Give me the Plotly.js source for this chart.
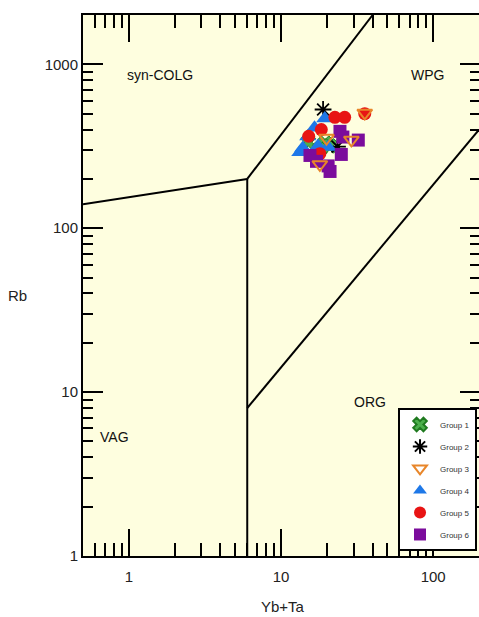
<!DOCTYPE html>
<html>
<head>
<meta charset="utf-8">
<script src="https://cdn.plot.ly/plotly-3.0.1.min.js"></script>
<style>
html,body{margin:0;padding:0;background:#fff;overflow:hidden;width:479px;height:617px;}
#chart{width:482px;height:617px;}
</style>
</head>
<body>
<div id="chart"></div>
<script>
// ---- Data (Yb+Ta vs Rb) ----
var group1X = [15.1, 19.5, 18.0, 20.9];
var group1Y = [335, 330, 305, 318];
var group2X = [18.9, 23.5];
var group2Y = [530, 315];
var group3X = [35.5, 29.0, 18.0, 19.9];
var group3Y = [505, 346, 245, 355];
var group4X = [19.4, 16.6, 15.0, 13.9, 13.3, 17.5, 20.4];
var group4Y = [467, 410, 363, 309, 291, 318, 313];
var group5X = [22.6, 26.2, 18.4, 15.2, 18.0, 35.5];
var group5Y = [475, 475, 400, 364, 285, 500];
var group6X = [24.4, 32.2, 25.5, 15.5, 24.9, 17.1, 20.4, 21.0];
var group6Y = [390, 345, 360, 278, 282, 256, 240, 222];

// Field boundaries (Pearce et al. 1984)
var bndVagSynX = [0.5, 6];   var bndVagSynY = [140, 200];
var bndSynWpgX = [6, 40];    var bndSynWpgY = [200, 2000];
var bndVagX = [6, 6];        var bndVagY = [1, 200];
var bndOrgX = [6, 200];      var bndOrgY = [8, 400];

var fieldNames = ['syn-COLG', 'WPG', 'VAG', 'ORG'];
var fieldX = [1.6, 92, 0.81, 38.5];
var fieldY = [860, 860, 5.3, 8.7];

var xMajor = [1, 10, 100];
var xMajorText = ['1', '10', '100'];
var xMinor = [0.6,0.7,0.8,0.9,2,3,4,5,6,7,8,9,20,30,40,50,60,70,80,90,200];
var yMajor = [1, 10, 100, 1000];
var yMajorText = ['1', '10', '100', '1000'];
var yMinor = [2,3,4,5,6,7,8,9,20,30,40,50,60,70,80,90,200,300,400,500,600,700,800,900];

function bnd(x, y) {
  return {x: x, y: y, mode: 'lines', type: 'scatter', showlegend: false,
          hoverinfo: 'skip', line: {color: '#000', width: 2}};
}

var traces = [
  bnd(bndVagSynX, bndVagSynY), bnd(bndSynWpgX, bndSynWpgY),
  bnd(bndVagX, bndVagY), bnd(bndOrgX, bndOrgY),
  {x: group1X, y: group1Y, name: 'Group 1', mode: 'markers', type: 'scatter',
   legendgroup: 'g1', legendrank: 1,
   marker: {symbol: 'x', size: 13, color: '#4CB04C', line: {color: '#1F7A1F', width: 1}}},
  {x: group2X, y: group2Y, name: 'Group 2', mode: 'markers', type: 'scatter',
   legendgroup: 'g2', legendrank: 2,
   marker: {symbol: 'asterisk-open', size: 14, color: '#000', line: {color: '#000', width: 1.8}}},
  {x: group4X, y: group4Y, name: 'Group 4', mode: 'markers', type: 'scatter',
   legendgroup: 'g4', legendrank: 4,
   marker: {symbol: 'triangle-up', size: 15, color: '#1E78E8'}},
  {x: group5X, y: group5Y, name: 'Group 5', mode: 'markers', type: 'scatter',
   legendgroup: 'g5', legendrank: 5,
   marker: {symbol: 'circle', size: 13, color: '#E81414'}},
  {x: group6X, y: group6Y, name: 'Group 6', mode: 'markers', type: 'scatter',
   legendgroup: 'g6', legendrank: 6,
   marker: {symbol: 'square', size: 13, color: '#7B0C9C'}},
  {x: group3X, y: group3Y, name: 'Group 3', mode: 'markers', type: 'scatter',
   legendgroup: 'g3', legendrank: 3,
   marker: {symbol: 'triangle-down-open', size: 13, color: '#E8862A', line: {color: '#E8862A', width: 2}}}
];

var annotations = fieldNames.map(function (t, i) {
  return {x: Math.log10(fieldX[i]), y: Math.log10(fieldY[i]), xref: 'x', yref: 'y',
          xanchor: 'center', yanchor: 'middle',
          text: t, showarrow: false, font: {family: 'Liberation Sans, Arial, sans-serif', size: 14, color: '#111'}};
});
annotations.push({x: -0.166, y: 0.482, xref: 'paper', yref: 'paper', text: 'Rb', showarrow: false,
  xanchor: 'center', yanchor: 'middle',
  font: {family: 'Liberation Sans, Arial, sans-serif', size: 15, color: '#222'}});
annotations.push({x: 0.504, y: -0.094, xref: 'paper', yref: 'paper', text: 'Yb+Ta', showarrow: false,
  xanchor: 'center', yanchor: 'middle',
  font: {family: 'Liberation Sans, Arial, sans-serif', size: 15, color: '#222'}});

var layout = {
  width: 482, height: 617,
  margin: {l: 83, r: 2, t: 15, b: 61, autoexpand: false},
  paper_bgcolor: '#ffffff',
  plot_bgcolor: '#FEFEDF',
  font: {family: 'Liberation Sans, Arial, sans-serif', size: 15, color: '#222'},
  showlegend: true,
  legend: {x: 0.9925, y: 0.2736, xanchor: 'right', yanchor: 'top',
           bgcolor: '#ffffff', bordercolor: '#000', borderwidth: 2,
           font: {size: 8, color: '#333'}, traceorder: 'grouped', tracegroupgap: 3,
           itemsizing: 'constant'},
  xaxis: {type: 'log', range: [Math.log10(0.5), Math.log10(203)],
          tickmode: 'array', tickvals: xMajor, ticktext: xMajorText,
          ticks: 'inside', ticklen: 27, tickwidth: 2, tickcolor: '#000',
          ticklabelstandoff: 6,
          showline: true, linecolor: '#000', linewidth: 2, mirror: 'ticks',
          showgrid: false, zeroline: false,
          minor: {tickmode: 'array', tickvals: xMinor, ticks: 'inside', ticklen: 13,
                  tickwidth: 2, tickcolor: '#000', showgrid: false}},
  yaxis: {type: 'log', range: [0, Math.log10(2000)],
          tickmode: 'array', tickvals: yMajor, ticktext: yMajorText,
          ticks: 'inside', ticklen: 20, tickwidth: 2, tickcolor: '#000',
          showline: true, linecolor: '#000', linewidth: 2, mirror: 'ticks',
          showgrid: false, zeroline: false,
          minor: {tickmode: 'array', tickvals: yMinor, ticks: 'inside', ticklen: 10,
                  tickwidth: 2, tickcolor: '#000', showgrid: false}},
  annotations: annotations
};

Plotly.newPlot('chart', traces, layout, {staticPlot: true, displayModeBar: false});
</script>
</body>
</html>
